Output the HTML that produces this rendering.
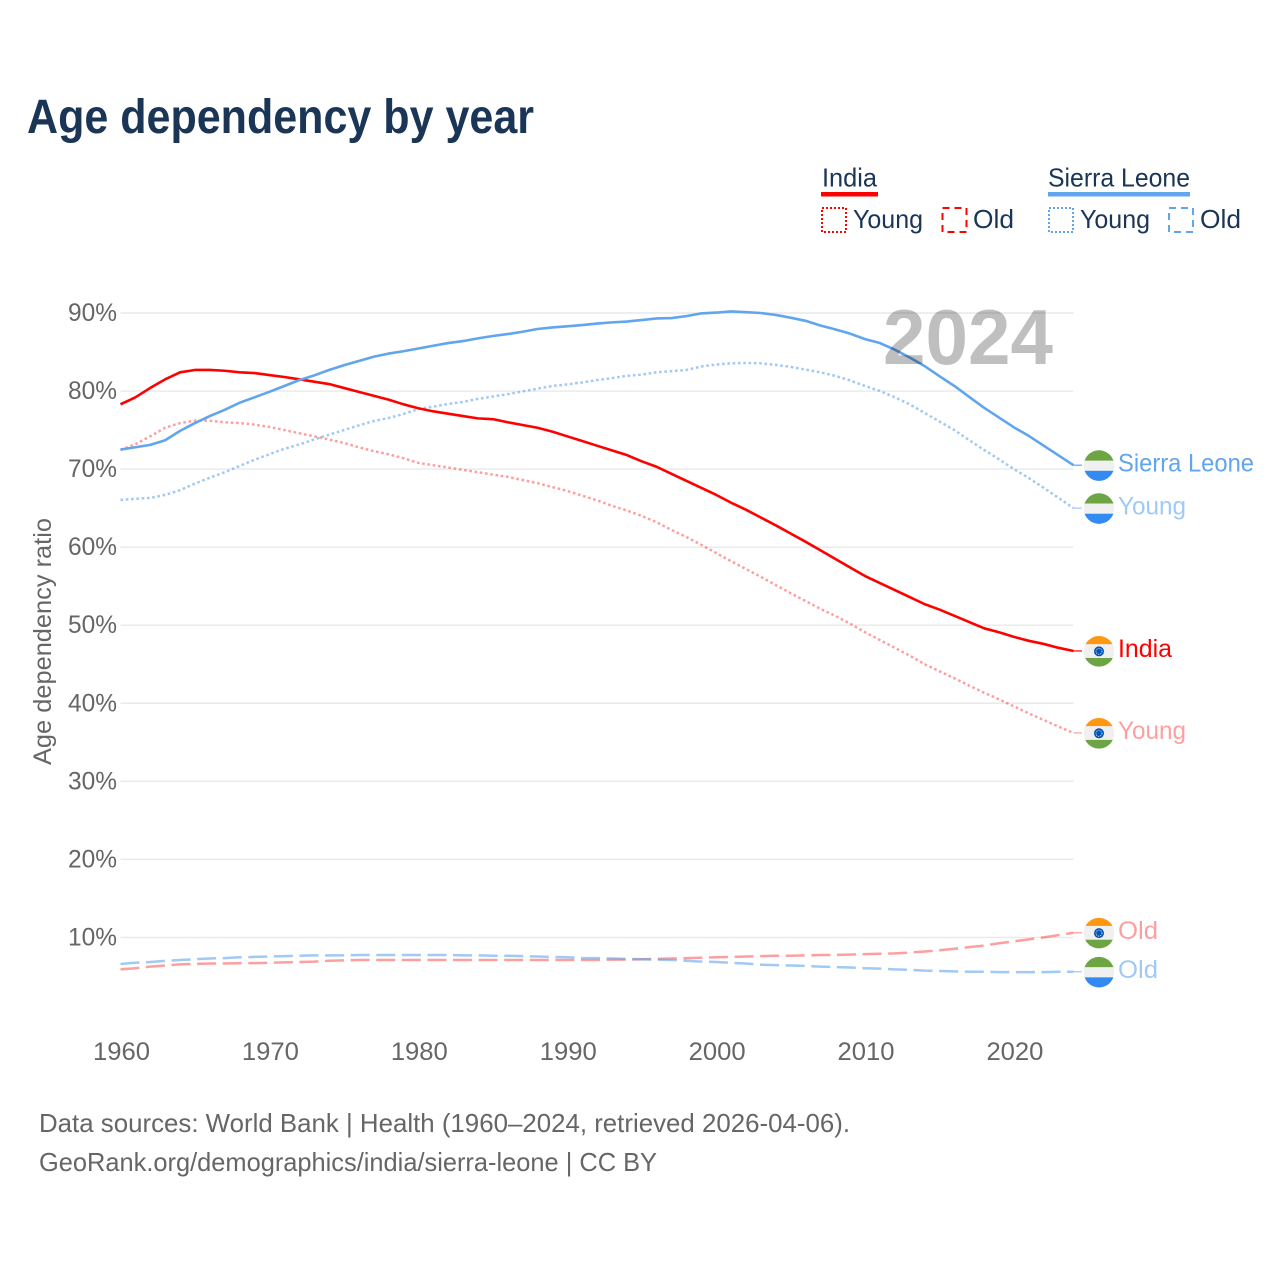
<!DOCTYPE html>
<html lang="en">
<head>
<meta charset="utf-8">
<title>Age dependency by year</title>
<style>
html,body{margin:0;padding:0;background:#fff;}
svg{display:block;font-family:"Liberation Sans",sans-serif;}
</style>
</head>
<body>
<svg id="chart" xmlns="http://www.w3.org/2000/svg" width="1280" height="1280" viewBox="0 0 1280 1280">
  <defs>
    <clipPath id="flag-clip"><circle cx="0" cy="0" r="15.3"></circle></clipPath>
  </defs>
  <rect x="0" y="0" width="1280" height="1280" fill="#ffffff"></rect>
  <text x="27" y="133" font-size="48" font-weight="700" fill="#1a3556" textLength="507" lengthAdjust="spacingAndGlyphs">Age dependency by year</text>

  <g>
    <g>
      <text x="822" y="186.5" font-size="26" fill="#1a3556" textLength="55" lengthAdjust="spacingAndGlyphs">India</text>
      <rect x="821" y="192" width="57" height="4.5" fill="#ff0000"></rect>
    </g>
    <g>
      <rect x="822" y="208" width="24" height="24" fill="none" stroke="#ff0000" stroke-width="2" stroke-dasharray="2 2"></rect>
      <text x="853" y="228" font-size="26" fill="#1a3556" textLength="70" lengthAdjust="spacingAndGlyphs">Young</text>
    </g>
    <g>
      <rect x="942.5" y="208" width="24" height="24" fill="none" stroke="#ff0000" stroke-width="2" stroke-dasharray="7 5"></rect>
      <text x="973" y="228" font-size="26" fill="#1a3556" textLength="41" lengthAdjust="spacingAndGlyphs">Old</text>
    </g>
    <g>
      <text x="1048" y="186.5" font-size="26" fill="#1a3556" textLength="142" lengthAdjust="spacingAndGlyphs">Sierra Leone</text>
      <rect x="1048" y="192" width="142" height="4.5" fill="#60a5ee"></rect>
    </g>
    <g>
      <rect x="1049" y="208" width="24" height="24" fill="none" stroke="#60a5ee" stroke-width="2" stroke-dasharray="2 2"></rect>
      <text x="1080" y="228" font-size="26" fill="#1a3556" textLength="70" lengthAdjust="spacingAndGlyphs">Young</text>
    </g>
    <g>
      <rect x="1169" y="208" width="24" height="24" fill="none" stroke="#60a5ee" stroke-width="2" stroke-dasharray="7 5"></rect>
      <text x="1200" y="228" font-size="26" fill="#1a3556" textLength="41" lengthAdjust="spacingAndGlyphs">Old</text>
    </g>
  </g>

  <g id="grid"></g>
  <g id="y-ticks"></g>
  <g id="x-ticks"></g>
  <text transform="translate(51,641.5) rotate(-90)" text-anchor="middle" font-size="25" fill="#666666" textLength="247" lengthAdjust="spacingAndGlyphs">Age dependency ratio</text>
  <g id="series"></g>
  <text x="883" y="364" font-size="78" font-weight="700" fill="#000000" fill-opacity="0.25" textLength="170" lengthAdjust="spacingAndGlyphs">2024</text>
  <g id="end-labels"></g>

  <text x="39" y="1132" font-size="26" fill="#666666" textLength="811" lengthAdjust="spacingAndGlyphs">Data sources: World Bank | Health (1960–2024, retrieved 2026-04-06).</text>
  <text x="39" y="1171" font-size="26" fill="#666666" textLength="618" lengthAdjust="spacingAndGlyphs">GeoRank.org/demographics/india/sierra-leone | CC BY</text>
</svg>
<script>
var startYear = 1960;
var endYear = 2024;
var yTickValues = [10, 20, 30, 40, 50, 60, 70, 80, 90];
var yTickLabels = ["10%", "20%", "30%", "40%", "50%", "60%", "70%", "80%", "90%"];
var xTickValues = [1960, 1970, 1980, 1990, 2000, 2010, 2020];
var xTickLabels = ["1960", "1970", "1980", "1990", "2000", "2010", "2020"];

var indiaYoung = [
  72.45,73.2,74.2,75.3,75.9,76.2,76.2,76.0,75.9,75.7,
  75.4,75.0,74.6,74.2,73.8,73.35,72.8,72.3,71.9,71.4,
  70.8,70.5,70.2,69.9,69.6,69.3,69.0,68.6,68.2,67.7,
  67.2,66.6,66.0,65.3,64.7,64.0,63.2,62.2,61.3,60.3,
  59.25,58.2,57.2,56.2,55.15,54.1,53.1,52.1,51.2,50.2,
  49.1,48.1,47.1,46.1,45.0,44.1,43.2,42.25,41.35,40.5,
  39.6,38.7,37.85,37.0,36.2
];
var indiaOld = [
  5.9,6.05,6.25,6.4,6.55,6.6,6.65,6.65,6.7,6.7,
  6.75,6.8,6.85,6.9,7.0,7.05,7.1,7.1,7.1,7.1,
  7.1,7.1,7.1,7.1,7.1,7.1,7.1,7.1,7.1,7.1,
  7.1,7.1,7.1,7.15,7.15,7.2,7.25,7.3,7.35,7.4,
  7.45,7.5,7.55,7.6,7.65,7.65,7.7,7.75,7.75,7.8,
  7.85,7.9,7.95,8.05,8.2,8.35,8.55,8.75,8.95,9.25,
  9.5,9.75,10.0,10.3,10.6
];
var sierraLeoneYoung = [
  66.05,66.2,66.3,66.7,67.3,68.15,68.9,69.6,70.4,71.2,
  71.9,72.6,73.15,73.8,74.4,75.0,75.6,76.15,76.55,77.05,
  77.7,78.0,78.35,78.6,79.0,79.3,79.6,79.95,80.3,80.65,
  80.85,81.1,81.4,81.65,81.95,82.1,82.4,82.55,82.7,83.15,
  83.4,83.55,83.6,83.55,83.35,83.1,82.75,82.4,81.95,81.35,
  80.65,80.0,79.2,78.3,77.2,76.1,75.0,73.7,72.45,71.25,
  70.0,68.85,67.6,66.3,65.0
];
var sierraLeoneOld = [
  6.6,6.75,6.85,7.0,7.1,7.2,7.3,7.35,7.45,7.5,
  7.55,7.6,7.65,7.7,7.7,7.7,7.75,7.75,7.75,7.75,
  7.75,7.75,7.75,7.7,7.7,7.65,7.65,7.6,7.55,7.5,
  7.45,7.35,7.35,7.3,7.25,7.2,7.15,7.1,7.0,6.9,
  6.85,6.75,6.65,6.5,6.45,6.4,6.35,6.25,6.2,6.15,
  6.05,6.0,5.9,5.85,5.75,5.7,5.65,5.6,5.6,5.55,
  5.55,5.55,5.55,5.6,5.6
];
var indiaTotal = [
  78.3,79.2,80.4,81.5,82.4,82.7,82.7,82.6,82.4,82.3,
  82.05,81.8,81.5,81.2,80.9,80.4,79.9,79.4,78.9,78.3,
  77.8,77.4,77.1,76.8,76.5,76.4,76.0,75.65,75.3,74.8,
  74.2,73.6,73.0,72.4,71.8,71.0,70.3,69.4,68.5,67.6,
  66.7,65.7,64.8,63.8,62.8,61.75,60.7,59.6,58.5,57.4,
  56.3,55.4,54.5,53.6,52.7,52.0,51.2,50.4,49.6,49.1,
  48.5,48.0,47.6,47.1,46.7
];
var sierraLeoneTotal = [
  72.5,72.8,73.1,73.7,74.9,75.9,76.8,77.6,78.5,79.2,
  79.9,80.65,81.4,82.0,82.7,83.3,83.85,84.4,84.8,85.1,
  85.45,85.8,86.15,86.4,86.75,87.05,87.3,87.6,87.95,88.15,
  88.3,88.45,88.65,88.8,88.9,89.1,89.3,89.35,89.6,89.95,
  90.05,90.2,90.1,90.0,89.75,89.4,89.0,88.4,87.9,87.35,
  86.65,86.15,85.3,84.3,83.2,81.9,80.65,79.25,77.85,76.6,
  75.35,74.25,73.0,71.75,70.5
];

var NS = 'http://www.w3.org/2000/svg';
function xScale(year) { return 120.5 + (year - startYear) * (1073.5 - 120.5) / (endYear - startYear); }
function yScale(value) { return 937.4 - (value - 10) * 7.805; }
function make(tag, attrs, parent) {
  var el = document.createElementNS(NS, tag);
  for (var k in attrs) { el.setAttribute(k, attrs[k]); }
  parent.appendChild(el);
  return el;
}

var gridG = document.getElementById('grid');
var yG = document.getElementById('y-ticks');
yTickValues.forEach(function (v, i) {
  var line = make('line', {x1: 120.5, x2: 1073.5, y1: yScale(v), y2: yScale(v), stroke: '#e9e9e9', 'stroke-width': 1.4}, gridG);
  
  
  var t = make('text', {x: 68, y: yScale(v) + 8, 'font-size': 25, fill: '#666666', textLength: 49, lengthAdjust: 'spacingAndGlyphs'}, yG);
  
  
  t.textContent = yTickLabels[i];
});

var xG = document.getElementById('x-ticks');
xTickValues.forEach(function (yr, i) {
  var t = make('text', {x: xScale(yr) - 27.5, y: 1060, 'font-size': 25, fill: '#666666', textLength: 57, lengthAdjust: 'spacingAndGlyphs'}, xG);
  
  
  t.textContent = xTickLabels[i];
});

function drawSeries(values, color, opacity, dash, width) {
  var g = document.getElementById('series');
  var pts = values.map(function (v, i) { return xScale(startYear + i).toFixed(2) + ',' + yScale(v).toFixed(2); });
  var attrs = {points: pts.join(' '), fill: 'none', stroke: color, 'stroke-opacity': opacity, 'stroke-width': width, 'stroke-linejoin': 'round'};
  if (dash) { attrs['stroke-dasharray'] = dash; }
  var line = make('polyline', attrs, g);
  
  
  var lastY = yScale(values[values.length - 1]);
  var conn = make('line', {x1: xScale(endYear), x2: 1082, y1: lastY, y2: lastY, stroke: color, 'stroke-opacity': opacity, 'stroke-width': 1.2}, g);
  
  
}

function drawFlag(country, cy) {
  var parent = document.getElementById('end-labels');
  var g = make('g', {transform: 'translate(1099,' + (cy + 0.4).toFixed(2) + ')', 'clip-path': 'url(#flag-clip)'}, parent);
  
  
  if (country === 'india') {
    make('rect', {x: -16, y: -16, width: 32, height: 32, fill: '#f0f0f0'}, g);
    make('rect', {x: -16, y: -16, width: 32, height: 8.8, fill: '#ff9811'}, g);
    make('rect', {x: -16, y: 6.6, width: 32, height: 10, fill: '#6da544'}, g);
    make('circle', {cx: 0, cy: 0, r: 5, fill: '#0052b4'}, g);
    make('circle', {cx: 0, cy: 0, r: 3, fill: 'none', stroke: '#dbe6f5', 'stroke-width': 0.9, 'stroke-dasharray': '1.2 1'}, g);
  } else {
    make('rect', {x: -16, y: -16, width: 32, height: 32, fill: '#f0f0f0'}, g);
    make('rect', {x: -16, y: -16, width: 32, height: 11, fill: '#6da544'}, g);
    make('rect', {x: -16, y: 5.2, width: 32, height: 11, fill: '#338af3'}, g);
  }
}

function drawEndLabel(values, text, color, opacity, widthPx, country) {
  var cy = yScale(values[values.length - 1]);
  drawFlag(country, cy);
  var t = make('text', {x: 1118, y: cy + 6.2, 'font-size': 25, fill: color, 'fill-opacity': opacity, textLength: widthPx, lengthAdjust: 'spacingAndGlyphs'}, document.getElementById('end-labels'));
  
  
  t.textContent = text;
}

var red = '#ff0000';
var blue = '#60a5ee';
var dotted = '2.6 2.7';
var dashed = '19 6.6';

drawSeries(indiaOld, red, 0.38, dashed, 2.5);
drawSeries(sierraLeoneOld, blue, 0.6, dashed, 2.5);
drawSeries(indiaYoung, red, 0.38, dotted, 2.5);
drawSeries(sierraLeoneYoung, blue, 0.6, dotted, 2.5);
drawSeries(indiaTotal, red, 1, '', 2.6);
drawSeries(sierraLeoneTotal, blue, 1, '', 2.6);

drawEndLabel(sierraLeoneTotal, 'Sierra Leone', blue, 1, 136, 'sierra-leone');
drawEndLabel(sierraLeoneYoung, 'Young', blue, 0.6, 68, 'sierra-leone');
drawEndLabel(indiaTotal, 'India', red, 1, 54, 'india');
drawEndLabel(indiaYoung, 'Young', red, 0.38, 68, 'india');
drawEndLabel(indiaOld, 'Old', red, 0.38, 40, 'india');
drawEndLabel(sierraLeoneOld, 'Old', blue, 0.6, 40, 'sierra-leone');
</script>
</body>
</html>
